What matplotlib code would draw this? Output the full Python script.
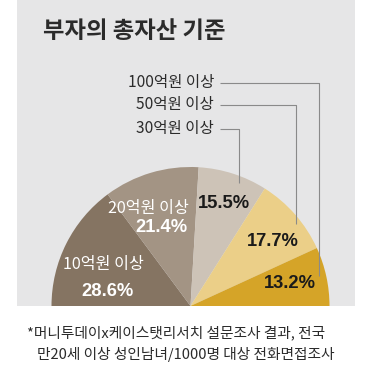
import matplotlib
matplotlib.use("Agg")
import matplotlib.pyplot as plt
from matplotlib.patches import Rectangle

W, H = 371, 371

# 데이터
title = "부자의 총자산 기준"
categories = ["10억원 이상", "20억원 이상", "30억원 이상", "50억원 이상", "100억원 이상"]
shares = [28.6, 21.4, 15.5, 17.7, 13.2]
colors = ["#857462", "#a39484", "#cdc3b7", "#ebcf88", "#d5a428"]
note = ["*머니투데이x케이스탯리서치 설문조사 결과, 전국",
        "만20세 이상 성인남녀/1000명 대상 전화면접조사"]

KR = ["Noto Sans CJK KR", "DejaVu Sans"]
NUM = ["Liberation Sans", "DejaVu Sans"]
BG = "#e6e6e7"; INK = "#2b2b2b"; LEAD = "#8a8a8a"

def py(y):  # 픽셀 y(위→아래) → 데이터 y
    return H - y

fig = plt.figure(figsize=(W / 100, H / 100), dpi=100)
ax = fig.add_axes([0, 0, 1, 1])

# 회색 패널
ax.add_patch(Rectangle((17, py(306)), 338, 306, facecolor=BG, edgecolor="none", zorder=0))

# 반원 파이: 합계만큼의 숨은 조각으로 아래 절반을 비운다
cx, cy, r = 190.5, py(306), 139
wedges, _ = ax.pie(shares + [sum(shares)], colors=colors + ["none"],
                   startangle=180, counterclock=False, radius=r, center=(cx, cy),
                   wedgeprops=dict(linewidth=0), frame=True)
wedges[-1].set_visible(False)

# 제목
ax.text(43, py(31), title, family=KR, fontsize=16.8, fontweight="bold", color=INK,
        ha="left", va="center")

# 조각 안 라벨 (어두운 조각: 흰색, 밝은 조각: 검정)
pf = dict(family=NUM, fontsize=13.2, fontweight="bold", ha="center", va="center")
lf = dict(family=KR, fontsize=11.6, color="white", ha="center", va="center")
ax.text(103, py(265), categories[0], **lf)
ax.text(107, py(291), f"{shares[0]}%", color="white", **pf)
ax.text(148, py(209), categories[1], **lf)
ax.text(161, py(228), f"{shares[1]}%", color="white", **pf)
ax.text(224, py(204), f"{shares[2]}%", color="#1a1a1a", **pf)
ax.text(273, py(242), f"{shares[3]}%", color="#1a1a1a", **pf)
ax.text(290, py(283), f"{shares[4]}%", color="#1a1a1a", **pf)

# 위쪽 범례 라벨 + 꺾인 지시선
leaders = [(categories[4], 83, 319, 276), (categories[3], 105, 296, 224), (categories[2], 129, 239, 183)]
for lab, ly, lx, lbot in leaders:
    ax.text(214, py(ly), lab, family=KR, fontsize=11.2, color=INK, ha="right", va="center")
    ax.plot([220, lx, lx], [py(ly), py(ly), py(lbot)], color=LEAD, lw=0.8, solid_capstyle="butt")

# 주석
ax.text(27, py(333), note[0], family=KR, fontsize=10.6, color=INK, ha="left", va="center")
ax.text(37, py(354), note[1], family=KR, fontsize=10.6, color=INK, ha="left", va="center")

ax.set_xlim(0, W); ax.set_ylim(0, H)
ax.set_aspect("auto")
ax.axis("off")
fig.savefig("out.png", dpi=100, facecolor="white")
